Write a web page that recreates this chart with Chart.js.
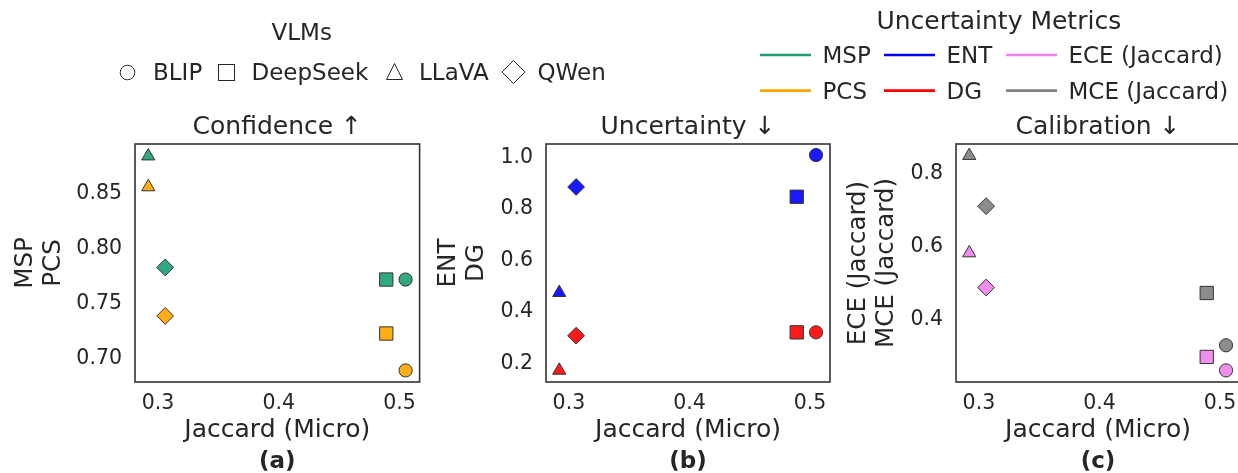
<!DOCTYPE html>
<html>
<head>
<meta charset="utf-8">
<script src="https://cdn.jsdelivr.net/npm/chart.js@4.4.0/dist/chart.umd.min.js"></script>
<style>
    body { margin: 0; width: 1238px; height: 473px; overflow: hidden; background: #fff; position: relative; font-family: "DejaVu Sans"; color: #262626; }
    canvas { position: absolute; top: 0; }
    .t { position: absolute; white-space: nowrap; line-height: 1; }
    #legend-svg { position: absolute; left: 0; top: 0; }
</style>
</head>
<body>
<canvas id="grafico-a" width="430" height="473" style="left:0px"></canvas>
<canvas id="grafico-b" width="420" height="473" style="left:430px"></canvas>
<canvas id="grafico-c" width="420" height="473" style="left:840px"></canvas>

<svg id="legend-svg" width="1238" height="110">
    <circle cx="127.5" cy="72.5" r="7.3" fill="none" stroke="#262626" stroke-width="1"/>
    <rect x="218.5" y="64.5" width="16" height="16" fill="none" stroke="#262626" stroke-width="1"/>
    <polygon points="394.5,63.5 386.5,79.5 402.5,79.5" fill="none" stroke="#262626" stroke-width="1"/>
    <polygon points="513.5,60.5 525,72 513.5,83.5 502,72" fill="none" stroke="#262626" stroke-width="1"/>
    <line x1="760" y1="55" x2="811" y2="55" stroke="#1b9e77" stroke-width="2.7"/>
    <line x1="884" y1="55" x2="935" y2="55" stroke="#0000ff" stroke-width="2.7"/>
    <line x1="1006" y1="55" x2="1057" y2="55" stroke="#ee82ee" stroke-width="2.7"/>
    <line x1="760" y1="90.7" x2="811" y2="90.7" stroke="#ffa500" stroke-width="2.7"/>
    <line x1="884" y1="90.7" x2="935" y2="90.7" stroke="#ff0000" stroke-width="2.7"/>
    <line x1="1006" y1="90.7" x2="1057" y2="90.7" stroke="#808080" stroke-width="2.7"/>
</svg>

<div class="t" style="left:301.7px; top:21px; font-size:23px; transform:translateX(-50%)">VLMs</div>
<div class="t" style="left:153px; top:61px; font-size:23px">BLIP</div>
<div class="t" style="left:251.5px; top:61px; font-size:23px">DeepSeek</div>
<div class="t" style="left:419px; top:61px; font-size:23px">LLaVA</div>
<div class="t" style="left:537.5px; top:61px; font-size:23px">QWen</div>

<div class="t" style="left:998.8px; top:8px; font-size:25px; transform:translateX(-50%)">Uncertainty Metrics</div>
<div class="t" style="left:822.5px; top:44px; font-size:23px">MSP</div>
<div class="t" style="left:946.5px; top:44px; font-size:23px">ENT</div>
<div class="t" style="left:1068.5px; top:44px; font-size:23px">ECE (Jaccard)</div>
<div class="t" style="left:822.5px; top:79.7px; font-size:23px">PCS</div>
<div class="t" style="left:946.5px; top:79.7px; font-size:23px">DG</div>
<div class="t" style="left:1068.5px; top:79.7px; font-size:23px">MCE (Jaccard)</div>

<script>
// ---------------- DATA ----------------
var modelli = ["BLIP", "DeepSeek", "LLaVA", "QWen"];
var forme = ["circle", "rect", "triangle", "rectRot"];
var jaccard = [0.505, 0.489, 0.292, 0.306];

var msp = [0.770, 0.770, 0.882, 0.781];
var pcs = [0.6875, 0.721, 0.854, 0.737];
var ent = [1.000, 0.838, 0.465, 0.876];
var dg  = [0.311, 0.311, 0.163, 0.298];
var ece = [0.253, 0.290, 0.576, 0.481];
var mce = [0.322, 0.466, 0.844, 0.705];

var xTicks = [0.3, 0.4, 0.5];
var ticksA = [0.70, 0.75, 0.80, 0.85];
var ticksB = [0.2, 0.4, 0.6, 0.8, 1.0];
var ticksC = [0.4, 0.6, 0.8];

// ---------------- STYLE ----------------
var testo = "#262626";
var font = "DejaVu Sans";
var raggi = { circle: 6.6, rect: 9.4, triangle: 7.6, rectRot: 8.4 };

// cornice + titolo + lettera del pannello
var pannelloPlugin = {
    id: "pannello",
    afterDraw: function(chart, args, opts) {
        var ctx = chart.ctx;
        var a = chart.chartArea;
        ctx.save();
        ctx.strokeStyle = "#333333";
        ctx.lineWidth = 1.6;
        ctx.strokeRect(a.left, a.top, a.right - a.left, a.bottom - a.top);
        ctx.fillStyle = testo;
        ctx.textAlign = "center";
        ctx.textBaseline = "middle";
        ctx.font = "25px '" + font + "'";
        ctx.fillText(opts.titolo, (a.left + a.right) / 2, 127);
        ctx.font = "bold 23px '" + font + "'";
        ctx.fillText(opts.lettera, (a.left + a.right) / 2, 462);
        ctx.restore();
    }
};

function creaPannello(id, cfg) {
    var datasets = cfg.serie.map(function(s) {
        return {
            label: s.nome,
            data: jaccard.map(function(x, i) { return { x: x, y: s.valori[i] }; }),
            pointStyle: forme,
            pointRadius: forme.map(function(f) { return raggi[f]; }),
            pointHoverRadius: forme.map(function(f) { return raggi[f]; }),
            backgroundColor: s.colore,
            borderColor: "#333333",
            borderWidth: 1,
            pointBorderWidth: 1
        };
    });

    return new Chart(document.getElementById(id), {
        type: "scatter",
        data: { datasets: datasets },
        plugins: [pannelloPlugin],
        options: {
            responsive: false,
            animation: false,
            devicePixelRatio: 1,
            layout: { padding: { top: 144, right: cfg.larghezza - cfg.destra, left: 0, bottom: 0 } },
            plugins: {
                legend: { display: false },
                tooltip: { enabled: false },
                pannello: { titolo: cfg.titolo, lettera: cfg.lettera }
            },
            scales: {
                x: {
                    type: "linear",
                    min: 0.281,
                    max: 0.5166,
                    grid: { display: false, drawTicks: false },
                    border: { display: false },
                    afterBuildTicks: function(s) { s.ticks = xTicks.map(function(v) { return { value: v }; }); },
                    afterFit: function(s) { s.height = 91; },
                    ticks: {
                        autoSkip: false, maxRotation: 0, padding: 9, color: testo,
                        font: { family: font, size: 20.5 },
                        callback: function(v) { return v.toFixed(1); }
                    },
                    title: {
                        display: true, text: "Jaccard (Micro)", color: testo,
                        font: { family: font, size: 25, lineHeight: 1.15 },
                        padding: { top: 0, bottom: 28 }
                    }
                },
                y: {
                    type: "linear",
                    min: cfg.yMin,
                    max: cfg.yMax,
                    grid: { display: false, drawTicks: false },
                    border: { display: false },
                    afterBuildTicks: function(s) { s.ticks = cfg.yTicks.map(function(v) { return { value: v }; }); },
                    afterFit: function(s) { s.width = cfg.sinistra; },
                    ticks: {
                        autoSkip: false, padding: 13, labelOffset: 2.5, color: testo,
                        font: { family: font, size: 20.5 },
                        callback: function(v) { return v.toFixed(cfg.decimali); }
                    },
                    title: {
                        display: true, text: cfg.yTitolo, color: testo,
                        font: { family: font, size: 24.5, lineHeight: 1.17 },
                        padding: { top: cfg.yPad, bottom: 0 }
                    }
                }
            }
        }
    });
}

creaPannello("grafico-a", {
    titolo: "Confidence \u2191", lettera: "(a)",
    larghezza: 430, sinistra: 135, destra: 420,
    yMin: 0.677, yMax: 0.893, yTicks: ticksA, decimali: 2,
    yTitolo: ["MSP", "PCS"], yPad: 11,
    serie: [
        { nome: "MSP", valori: msp, colore: "rgba(27,158,119,0.9)" },
        { nome: "PCS", valori: pcs, colore: "rgba(255,165,0,0.9)" }
    ]
});

creaPannello("grafico-b", {
    titolo: "Uncertainty \u2193", lettera: "(b)",
    larghezza: 420, sinistra: 116, destra: 400,
    yMin: 0.118, yMax: 1.043, yTicks: ticksB, decimali: 1,
    yTitolo: ["ENT", "DG"], yPad: 4,
    serie: [
        { nome: "ENT", valori: ent, colore: "rgba(0,0,255,0.9)" },
        { nome: "DG", valori: dg, colore: "rgba(255,0,0,0.9)" }
    ]
});

creaPannello("grafico-c", {
    titolo: "Calibration \u2193", lettera: "(c)",
    larghezza: 420, sinistra: 116, destra: 400,
    yMin: 0.221, yMax: 0.876, yTicks: ticksC, decimali: 1,
    yTitolo: ["ECE (Jaccard)", "MCE (Jaccard)"], yPad: 4,
    serie: [
        { nome: "ECE (Jaccard)", valori: ece, colore: "rgba(238,130,238,0.9)" },
        { nome: "MCE (Jaccard)", valori: mce, colore: "rgba(128,128,128,0.9)" }
    ]
});
</script>
</body>
</html>
